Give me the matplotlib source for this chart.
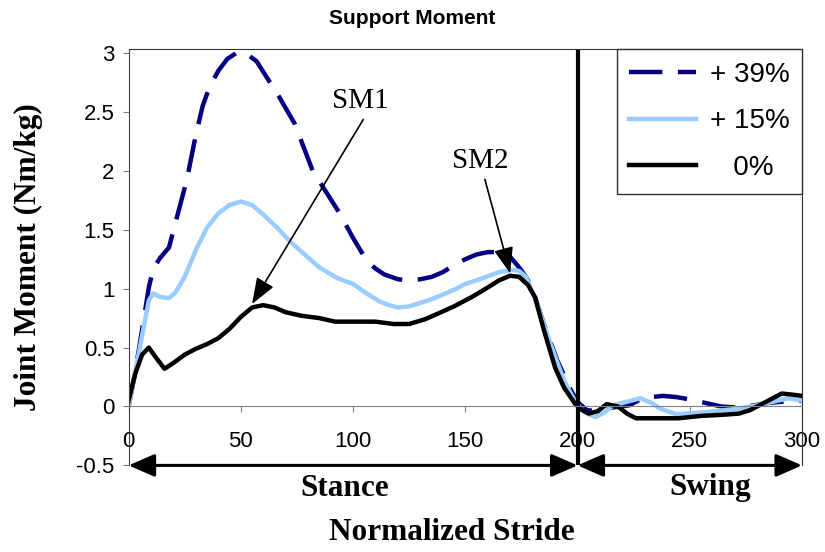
import matplotlib
matplotlib.use('Agg')
import matplotlib.pyplot as plt

# data
x_39 = [0, 3, 6, 9, 11, 14, 18, 22, 26, 30, 33, 36, 40, 44, 48, 52, 57, 62, 67, 74, 78, 82,
        88, 94, 100, 106, 110, 114, 120, 125, 130, 135, 140, 145, 150, 155, 160, 165, 170,
        174, 177, 180, 185, 191, 197, 200, 204, 208, 215, 223, 228, 233, 238, 244, 250, 257,
        264, 272, 279, 285, 291, 296, 300]
y_39 = [0.0, 0.3, 0.65, 1.01, 1.17, 1.26, 1.35, 1.64, 1.93, 2.31, 2.55, 2.71, 2.85, 2.95,
        3.0, 3.0, 2.93, 2.78, 2.63, 2.40, 2.20, 2.0, 1.82, 1.64, 1.43, 1.24, 1.17, 1.12, 1.08,
        1.07, 1.08, 1.10, 1.14, 1.20, 1.25, 1.29, 1.31, 1.31, 1.27, 1.18, 1.10, 0.99, 0.70,
        0.39, 0.14, 0.04, -0.03, -0.04, -0.01, 0.01, 0.06, 0.08, 0.09, 0.08, 0.06, 0.03, 0.0,
        -0.01, 0.01, 0.03, 0.04, 0.05, 0.05]

x_15 = [0, 3, 6, 9, 11, 14, 18, 21, 25, 30, 35, 40, 45, 50, 55, 60, 66, 72, 79, 85, 93, 100,
        106, 112, 116, 120, 125, 135, 145, 150, 158, 165, 171, 174, 177, 182, 188, 194, 199,
        203, 208, 212, 216, 222, 228, 233, 237, 244, 256, 271, 280, 287, 294, 300]
y_15 = [0.0, 0.3, 0.6, 0.9, 0.96, 0.93, 0.92, 0.97, 1.10, 1.33, 1.52, 1.64, 1.71, 1.74, 1.71,
        1.63, 1.52, 1.40, 1.28, 1.18, 1.09, 1.04, 0.96, 0.89, 0.86, 0.84, 0.85, 0.91, 0.99,
        1.04, 1.09, 1.14, 1.16, 1.15, 1.10, 0.87, 0.53, 0.22, 0.04, -0.05, -0.09, -0.05, 0.01,
        0.04, 0.07, 0.03, -0.02, -0.065, -0.05, -0.02, 0.01, 0.04, 0.07, 0.05]

x_0 = [0, 3, 6, 9, 12, 16, 20, 25, 30, 35, 40, 45, 50, 55, 60, 65, 70, 77, 85, 92, 100, 110,
       118, 125, 132, 138, 145, 153, 160, 165, 170, 174, 178, 181, 185, 190, 194, 199, 202,
       205, 209, 213, 218, 222, 226, 235, 245, 255, 265, 272, 277, 281, 286, 291, 296, 300]
y_0 = [0.05, 0.28, 0.44, 0.50, 0.42, 0.32, 0.37, 0.44, 0.49, 0.53, 0.58, 0.66, 0.76, 0.84,
       0.86, 0.84, 0.80, 0.77, 0.75, 0.72, 0.72, 0.72, 0.70, 0.70, 0.74, 0.79, 0.85, 0.93,
       1.01, 1.07, 1.11, 1.10, 1.03, 0.93, 0.65, 0.33, 0.16, 0.02, -0.03, -0.06, -0.04, 0.02,
       0.0, -0.06, -0.10, -0.10, -0.10, -0.08, -0.07, -0.06, -0.03, 0.01, 0.06, 0.11, 0.10,
       0.09]

labels = ['+ 39%', '+ 15%', '   0%']
x_ticks = [0, 50, 100, 150, 200, 250, 300]
y_ticks = [-0.5, 0, 0.5, 1, 1.5, 2, 2.5, 3]

serif = 'Liberation Serif'
sans = 'Liberation Sans'
plt.rcParams['font.family'] = sans

fig = plt.figure(figsize=(8.25, 5.52), dpi=100)
ax = fig.add_axes([128.6 / 825, 1 - 465.4 / 552, (802 - 128.6) / 825, (465.4 - 49) / 552])

ax.plot(x_39, y_39, color='#000080', lw=3.2, dashes=(7.5, 3.5), label=labels[0])
ax.plot(x_15, y_15, color='#99CCFF', lw=3.2, label=labels[1])
ax.plot(x_0, y_0, color='black', lw=3.2, label=labels[2])

ax.axvline(200, color='black', lw=3)

ax.set_xlim(0, 300)
ax.set_ylim(-0.5, 3.034)
ax.set_xticks(x_ticks)
ax.set_yticks(y_ticks)
ax.set_yticklabels(['-0.5', '0', '0.5', '1', '1.5', '2', '2.5', '3'])

ax.spines['bottom'].set_position(('data', 0))
ax.spines['bottom'].set_color('#808080')
ax.spines['left'].set_color('#404040')
for s in ['top', 'right']:
    ax.spines[s].set_color('#303030')
ax.tick_params(axis='x', direction='out', length=4, color='#808080', labelsize=16, pad=14)
ax.tick_params(axis='y', direction='out', length=4, color='#808080', labelsize=16, pad=6)

# stance / swing arrows
arrow_kw = dict(arrowstyle='<|-|>,head_length=0.8,head_width=0.35', color='black', lw=2.2,
                shrinkA=0, shrinkB=0, mutation_scale=20)
ax.annotate('', xy=(0, -0.5), xytext=(200, -0.5), arrowprops=arrow_kw, annotation_clip=False)
ax.annotate('', xy=(200, -0.5), xytext=(300, -0.5), arrowprops=arrow_kw, annotation_clip=False)

# SM1 / SM2 labels
sm_arrow = dict(arrowstyle='-|>,head_length=0.8,head_width=0.3', color='black', lw=1.2,
                mutation_scale=20, shrinkA=2, shrinkB=0)
ax.annotate('SM1', xy=(55, 0.87), xytext=(103.4, 2.59), ha='center', va='center',
            fontsize=21, family=serif, arrowprops=dict(sm_arrow, relpos=(0.6, 0)))
ax.annotate('SM2', xy=(170, 1.13), xytext=(156.8, 2.085), ha='center', va='center',
            fontsize=21, family=serif, arrowprops=dict(sm_arrow, relpos=(0.55, 0)))

leg = ax.legend(loc='upper right', bbox_to_anchor=(1, 1), borderaxespad=0, fontsize=20,
                handlelength=2.4, handletextpad=0.5, labelspacing=0.75, borderpad=0.45,
                fancybox=False, framealpha=1, edgecolor='#303030')
leg.get_frame().set_linewidth(1)

fig.text(0.5, 1 - 18 / 552, 'Support Moment', ha='center', va='center', fontsize=15,
         fontweight='bold', family=sans)
fig.text(28 / 825, 1 - 257 / 552, 'Joint Moment (Nm/kg)', rotation=90, ha='center',
         va='center', fontsize=22.5, fontweight='bold', family=serif)
fig.text(452 / 825, 1 - 532 / 552, 'Normalized Stride', ha='center', va='center',
         fontsize=22.5, fontweight='bold', family=serif)
fig.text(345 / 825, 1 - 488 / 552, 'Stance', ha='center', va='center', fontsize=22.5,
         fontweight='bold', family=serif)
fig.text(710 / 825, 1 - 488 / 552, 'Swing', ha='center', va='center', fontsize=22.5,
         fontweight='bold', family=serif)

fig.savefig('out.png', dpi=100, facecolor='white')
